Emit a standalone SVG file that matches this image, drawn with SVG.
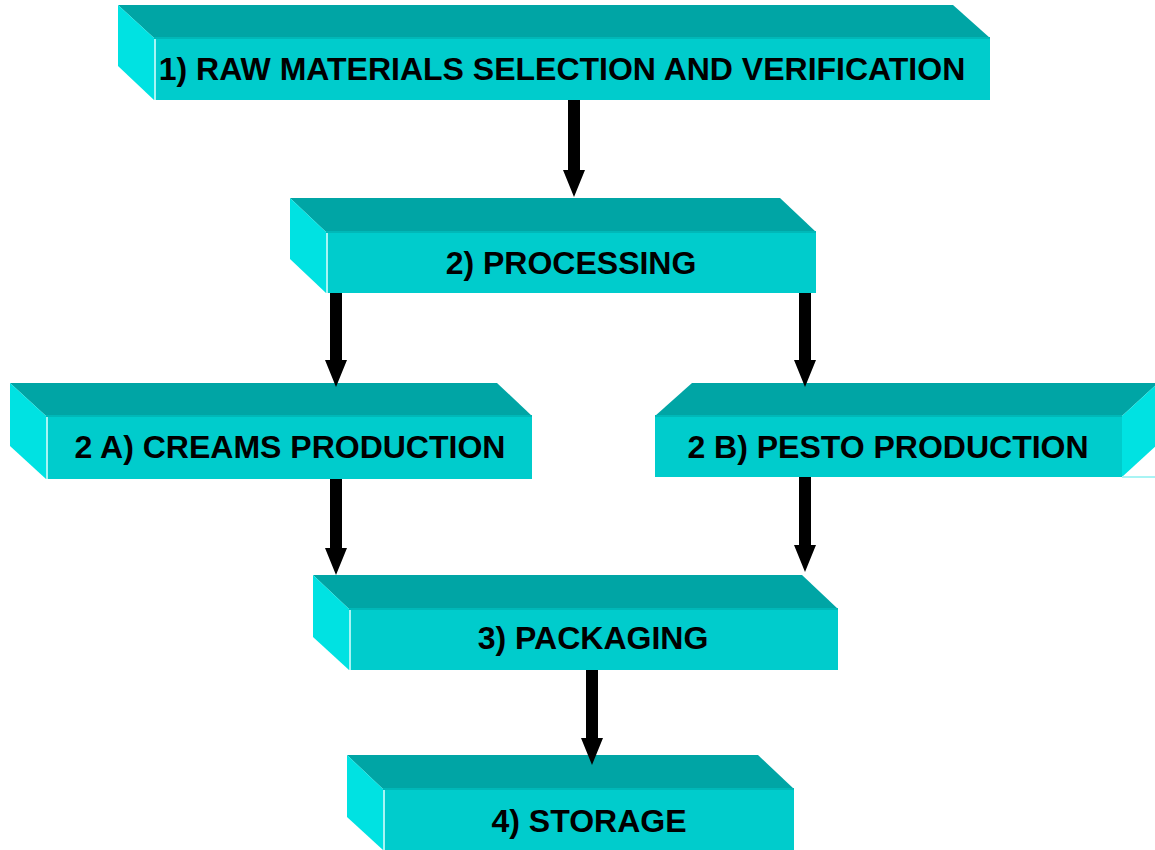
<svg xmlns="http://www.w3.org/2000/svg" width="1155" height="850" viewBox="0 0 1155 850">
  <style>
    .front { fill: #00CCCC; }
    .top { fill: #00A5A5; }
    .side { fill: #00E2E2; }
    .edge { stroke: #A8F4F4; stroke-width: 2; fill: none; }
    .rim { stroke: #00B8B8; stroke-width: 2; fill: none; }
    .label { font-family: "Liberation Sans", Arial, sans-serif; font-weight: bold; font-size: 32px; fill: #000000; text-anchor: middle; }
    .arrow { fill: #000000; }
  </style>
  <rect width="1155" height="850" fill="#FFFFFF"/>

  <!-- Step 1 -->
  <g id="node-raw-materials">
    <polygon class="top" points="118,5 953,5 990,38 154,38"/>
    <polygon class="side" points="118,5 154,38 154,100 118,66"/>
    <rect class="front" x="154" y="38" width="836" height="62"/>
    <line class="rim" x1="154" y1="38" x2="990" y2="38"/>
    <line class="edge" x1="155" y1="39" x2="155" y2="100"/>
    <text class="label" x="562" y="80">1) RAW MATERIALS SELECTION AND VERIFICATION</text>
  </g>

  <!-- Step 2 -->
  <g id="node-processing">
    <polygon class="top" points="290,198 780,198 816,232 326,232"/>
    <polygon class="side" points="290,198 326,232 326,293 290,259"/>
    <rect class="front" x="326" y="232" width="490" height="61"/>
    <line class="rim" x1="326" y1="232" x2="816" y2="232"/>
    <line class="edge" x1="327" y1="233" x2="327" y2="293"/>
    <text class="label" x="571" y="274">2) PROCESSING</text>
  </g>

  <!-- Step 2A -->
  <g id="node-creams">
    <polygon class="top" points="10,383 497,383 532,416 46,416"/>
    <polygon class="side" points="10,383 46,416 46,479 10,446"/>
    <rect class="front" x="46" y="416" width="486" height="63"/>
    <line class="rim" x1="46" y1="416" x2="532" y2="416"/>
    <line class="edge" x1="47" y1="417" x2="47" y2="479"/>
    <text class="label" x="290" y="458">2 A) CREAMS PRODUCTION</text>
  </g>

  <!-- Step 2B -->
  <g id="node-pesto">
    <polygon class="top" points="692,383 1158,383 1122,416 655,416"/>
    <polygon class="side" points="1122,416 1158,383 1158,444 1122,477"/>
    <rect class="front" x="655" y="416" width="467" height="61"/>
    <line class="rim" x1="655" y1="416" x2="1122" y2="416"/>
    <line class="edge" x1="1122" y1="477" x2="1158" y2="477"/>
    <text class="label" x="888" y="458">2 B) PESTO PRODUCTION</text>
  </g>

  <!-- Step 3 -->
  <g id="node-packaging">
    <polygon class="top" points="313,575 802,575 838,609 349,609"/>
    <polygon class="side" points="313,575 349,609 349,670 313,637"/>
    <rect class="front" x="349" y="609" width="489" height="61"/>
    <line class="rim" x1="349" y1="609" x2="838" y2="609"/>
    <line class="edge" x1="350" y1="610" x2="350" y2="670"/>
    <text class="label" x="593" y="649">3) PACKAGING</text>
  </g>

  <!-- Step 4 -->
  <g id="node-storage">
    <polygon class="top" points="347,755 758,755 794,789 383,789"/>
    <polygon class="side" points="347,755 383,789 383,850 347,817"/>
    <rect class="front" x="383" y="789" width="411" height="61"/>
    <line class="rim" x1="383" y1="789" x2="794" y2="789"/>
    <line class="edge" x1="384" y1="790" x2="384" y2="850"/>
    <text class="label" x="589" y="832">4) STORAGE</text>
  </g>

  <!-- Flow arrows -->
  <g id="connectors">
    <polygon class="arrow" points="568,100 580,100 580,170 585,170 574,197 563,170 568,170"/>
    <polygon class="arrow" points="330,293 342,293 342,360 347,360 336,387 325,360 330,360"/>
    <polygon class="arrow" points="799,293 811,293 811,360 816,360 805,387 794,360 799,360"/>
    <polygon class="arrow" points="330,479 342,479 342,548 347,548 336,575 325,548 330,548"/>
    <polygon class="arrow" points="799,477 811,477 811,545 816,545 805,572 794,545 799,545"/>
    <polygon class="arrow" points="586,670 598,670 598,738 603,738 592,765 581,738 586,738"/>
  </g>
</svg>
